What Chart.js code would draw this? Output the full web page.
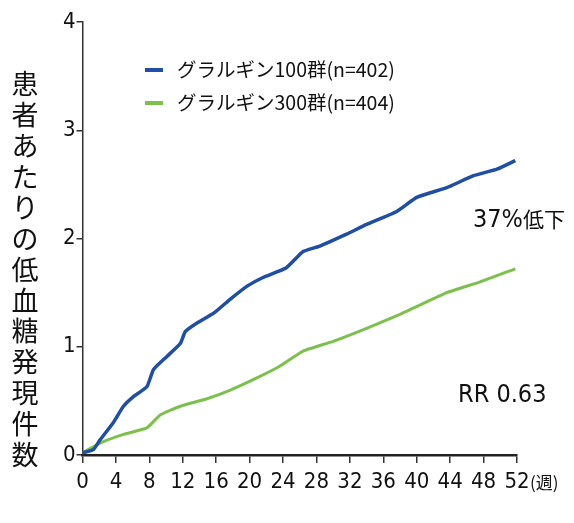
<!DOCTYPE html>
<html>
<head>
<meta charset="utf-8">
<script src="https://cdn.jsdelivr.net/npm/chart.js@4/dist/chart.umd.min.js"></script>
<style>
  html, body { margin: 0; padding: 0; background: #fff; }
  #wrap { position: relative; width: 574px; height: 523px; }
  canvas { display: block; }
</style>
</head>
<body>
<div id="wrap"><canvas id="c" width="574" height="523"></canvas></div>
<script>
// Cumulative hypoglycaemia events per patient over 52 weeks
const weeks100 = [0, 1.3, 2.1, 3.7, 4.9, 6.1, 7.7, 8.5, 10.1, 11.7, 12.3, 13.7, 15.7, 17.7, 19.7, 21.6, 24.4, 26.4, 28.4, 31.6, 34.0, 37.6, 40.0, 43.6, 46.8, 49.6, 51.8];
const events100 = [0.02, 0.05, 0.14, 0.30, 0.45, 0.54, 0.63, 0.79, 0.91, 1.03, 1.14, 1.22, 1.31, 1.44, 1.56, 1.64, 1.73, 1.88, 1.93, 2.04, 2.13, 2.25, 2.38, 2.47, 2.58, 2.64, 2.72];
const weeks300 = [0, 2.1, 4.9, 7.7, 9.3, 11.7, 14.9, 17.7, 20.8, 23.6, 26.4, 30.0, 34.0, 38.0, 40.8, 43.6, 47.6, 51.8];
const events300 = [0.02, 0.11, 0.19, 0.25, 0.37, 0.45, 0.52, 0.60, 0.71, 0.82, 0.96, 1.05, 1.17, 1.30, 1.40, 1.50, 1.60, 1.72];
const seriesLabels = ['グラルギン100群(n=402)', 'グラルギン300群(n=404)'];
const yTitle = '患者あたりの低血糖発現件数';
const xUnit = '(週)';
const notes = ['37%低下', 'RR 0.63'];

const BLUE = '#1f4ea6';
const GREEN = '#7dc04e';
const NARROW = '"DejaVu Sans Condensed", "Liberation Sans Narrow", sans-serif';
const CJK = '"Noto Sans CJK JP", sans-serif';

const toPoints = (xs, ys) => xs.map((x, i) => ({ x, y: ys[i] }));

// Draws a string with Latin runs in the condensed face and CJK runs in Noto,
// all sitting on one shared baseline
function drawMixed(ctx, text, x, baseline, latinSize, cjkSize) {
  const runs = text.match(/[\x00-\x7f]+|[^\x00-\x7f]+/g) || [];
  let cx = x;
  ctx.textBaseline = 'alphabetic';
  runs.forEach(run => {
    const latin = /^[\x00-\x7f]/.test(run);
    ctx.font = latin ? latinSize + 'px ' + NARROW : cjkSize + 'px ' + CJK;
    ctx.fillText(run, cx, baseline);
    cx += ctx.measureText(run).width;
  });
  ctx.textBaseline = 'middle';
}

// Legend, axis title and notes drawn on the canvas
const decorations = {
  id: 'decorations',
  afterDraw(chart) {
    const ctx = chart.ctx;
    ctx.save();
    // vertical y title, one character per line
    ctx.fillStyle = '#111';
    ctx.font = '27px ' + CJK;
    ctx.textAlign = 'center';
    ctx.textBaseline = 'middle';
    Array.from(yTitle).forEach((ch, i) => ctx.fillText(ch, 25, 84 + i * 30.9));
    // legend
    const colors = [BLUE, GREEN];
    ctx.font = '19.5px ' + CJK;
    ctx.textAlign = 'left';
    seriesLabels.forEach((lab, i) => {
      const ly = 70 + i * 33;
      ctx.strokeStyle = colors[i];
      ctx.lineWidth = 4;
      ctx.beginPath();
      ctx.moveTo(145, ly);
      ctx.lineTo(163, ly);
      ctx.stroke();
      ctx.fillStyle = '#111';
      ctx.fillText(lab, 177, ly);
    });
    // notes
    drawMixed(ctx, notes[0], 473, 227, 25, 21);
    ctx.font = '25px ' + NARROW;
    ctx.fillText(notes[1], 458, 395);
    // x unit
    ctx.font = '17px ' + CJK;
    ctx.fillText(xUnit, 530, 483);
    ctx.restore();
  }
};

new Chart(document.getElementById('c'), {
  type: 'line',
  data: {
    datasets: [
      { label: seriesLabels[0], data: toPoints(weeks100, events100), borderColor: BLUE, borderWidth: 3.5, pointRadius: 0, tension: 0.15, fill: false },
      { label: seriesLabels[1], data: toPoints(weeks300, events300), borderColor: GREEN, borderWidth: 3, pointRadius: 0, tension: 0.15, fill: false }
    ]
  },
  options: {
    responsive: false,
    animation: false,
    layout: { padding: { left: 0, right: 57, top: 22, bottom: 0 } },
    plugins: { legend: { display: false }, tooltip: { enabled: false } },
    scales: {
      x: {
        type: 'linear', min: 0, max: 52,
        afterFit: s => { s.height = 68; },
        ticks: { stepSize: 4, color: '#111', font: { family: NARROW, size: 22 }, padding: 6, maxRotation: 0 },
        grid: { drawOnChartArea: false, drawTicks: true, tickLength: 8, color: '#333', lineWidth: 1.5 },
        border: { display: true, color: '#222', width: 2.5 }
      },
      y: {
        type: 'linear', min: 0, max: 4,
        afterFit: s => { s.width = 82.5; },
        ticks: { stepSize: 1, color: '#111', font: { family: NARROW, size: 22 }, padding: 1 },
        grid: { drawOnChartArea: false, drawTicks: true, tickLength: 6, color: '#333', lineWidth: 1.5 },
        border: { display: true, color: '#333', width: 1.5 }
      }
    }
  },
  plugins: [decorations]
});
</script>
</body>
</html>
